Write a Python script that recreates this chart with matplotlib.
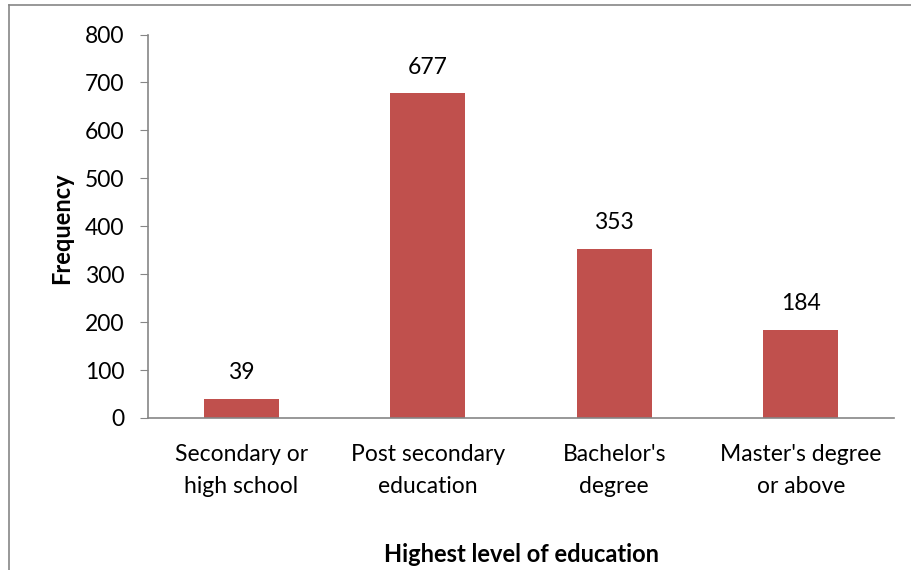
import matplotlib.pyplot as plt
from matplotlib.lines import Line2D

# Data
categories = ["Secondary or\nhigh school", "Post secondary\neducation",
              "Bachelor's\ndegree", "Master's degree\nor above"]
counts = [39, 677, 353, 184]
yticks = [0, 100, 200, 300, 400, 500, 600, 700, 800]

plt.rcParams['font.family'] = ['Lato', 'DejaVu Sans']

fig = plt.figure(figsize=(9.12, 5.7), dpi=100)
ax = fig.add_axes([148 / 912, 1 - 418 / 570, (894 - 148) / 912, (418 - 34.5) / 570])

x = range(len(categories))
bars = ax.bar(x, counts, width=0.4, color='#C0504D')

for b, v in zip(bars, counts):
    ax.annotate(str(v), (b.get_x() + b.get_width() / 2, v),
                xytext=(0, 19), textcoords='offset points',
                ha='center', va='center', fontsize=16.5)

ax.set_xlim(-0.5, len(categories) - 0.5)
ax.set_ylim(0, 800)
ax.set_yticks(yticks)
ax.set_xticks(list(x))
ax.set_xticklabels(categories, fontsize=16.5, linespacing=1.65)
ax.tick_params(axis='y', labelsize=16.5, length=6, color='#868686', pad=11)
ax.tick_params(axis='x', length=0, pad=18.5)

for s in ['top', 'right']:
    ax.spines[s].set_visible(False)
for s in ['left', 'bottom']:
    ax.spines[s].set_color('#868686')
    ax.spines[s].set_linewidth(1.2)

fig.text(62 / 912, 1 - 228 / 570, 'Frequency', rotation=90, ha='center',
         va='center', fontsize=17, fontweight='bold')
fig.text(521 / 912, 1 - 554 / 570, 'Highest level of education', ha='center',
         va='center', fontsize=17, fontweight='bold')

# outer chart border (only left and top visible)
fig.add_artist(Line2D([9 / 912, 9 / 912], [0, 1 - 5 / 570], transform=fig.transFigure,
                      color='#868686', lw=1.2))
fig.add_artist(Line2D([9 / 912, 1], [1 - 5 / 570, 1 - 5 / 570], transform=fig.transFigure,
                      color='#868686', lw=1.2))

fig.savefig('out.png', dpi=100)
